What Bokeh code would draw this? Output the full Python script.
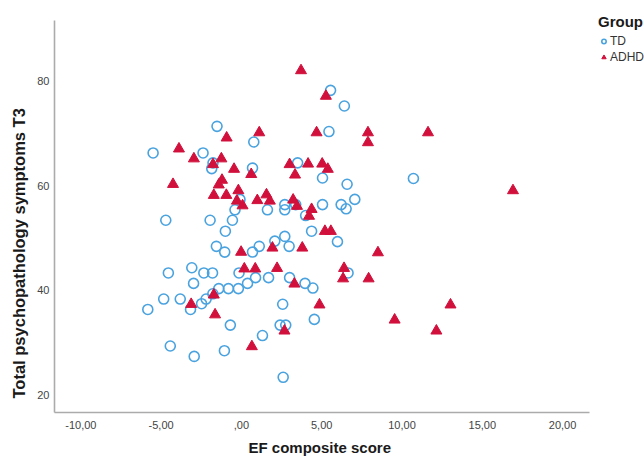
from bokeh.plotting import figure
from bokeh.models import Range1d, FixedTicker, Legend, LegendItem, Title
from bokeh.embed import file_html
from bokeh.resources import INLINE

# TD group (EF composite score, Total psychopathology symptoms T3)
td_x = [-1.52, 0.77, -5.50, -2.39, -1.77, -1.85, 0.69, -0.09, -0.40, -4.71,
        -1.95, -0.56, -1.00, -1.56, -1.04, 0.69, 1.11, -4.55, -3.09, -2.34,
        -1.80, -0.15, 0.88, -2.98, 0.38, -1.41, -0.81, -0.19, -1.78, -2.20,
        -2.48, -4.84, -3.81, -3.17, -5.83, -0.69, 1.31, -4.43, -1.06, -2.94,
        5.55, 6.41, 5.45, 3.50, 5.05, 6.58, 7.06, 2.70, 3.38, 5.05,
        6.21, 6.52, 1.62, 2.70, 4.00, 4.37, 5.98, 2.70, 2.08, 2.97,
        1.69, 3.00, 3.96, 4.45, 6.64, 2.57, 2.41, 2.76, 4.54, 2.60,
        10.71]
td_y = [71.4, 68.4, 66.3, 66.3, 64.4, 63.3, 63.4, 57.4, 55.4, 53.4,
        53.4, 53.4, 51.3, 48.4, 47.3, 47.3, 48.4, 43.3, 44.3, 43.3,
        43.3, 43.3, 42.4, 41.3, 41.3, 40.3, 40.3, 40.3, 39.3, 38.3,
        37.4, 38.3, 38.3, 36.3, 36.3, 33.3, 31.3, 29.3, 28.4, 27.3,
        78.3, 75.3, 70.4, 64.4, 61.5, 60.3, 57.4, 56.4, 56.4, 56.4,
        56.4, 55.6, 55.4, 55.4, 54.3, 51.3, 49.3, 50.3, 49.4, 48.4,
        42.4, 42.4, 41.3, 40.4, 43.3, 37.3, 33.3, 33.3, 34.4, 23.3,
        61.4]

# ADHD group
adhd_x = [-0.92, 1.11, -3.89, -2.96, -1.25, -1.77, -0.46, 0.61, -1.21, -1.41,
          -4.26, -1.72, -0.94, -0.19, -0.28, 0.07, 0.99, -0.02, 0.18, 0.86,
          -1.72, -3.13, -1.64, 0.65, 3.71, 5.26, 4.68, 7.88, 7.88, 3.00,
          4.15, 5.03, 5.38, 3.34, 1.56, 1.77, 3.22, 3.46, 4.37, 4.21,
          5.20, 5.57, 1.93, 3.79, 2.22, 6.39, 6.33, 7.92, 3.30, 4.86,
          2.68, 11.62, 8.50, 13.02, 9.54, 12.14, 16.91]
adhd_y = [69.2, 70.2, 67.1, 65.2, 65.2, 64.1, 63.2, 62.2, 61.1, 60.2,
          60.3, 58.2, 58.2, 59.1, 57.1, 56.2, 57.2, 47.3, 44.1, 44.1,
          39.1, 37.3, 35.3, 29.2, 82.1, 77.2, 70.2, 70.2, 68.3, 64.1,
          64.2, 64.2, 63.2, 62.1, 58.3, 57.1, 57.3, 56.1, 55.5, 54.2,
          51.3, 51.3, 48.1, 48.1, 44.2, 44.2, 42.2, 42.2, 41.2, 37.2,
          32.2, 70.2, 47.2, 37.2, 34.3, 32.2, 59.1]

x_ticks = [-10, -5, 0, 5, 10, 15, 20]
x_tick_labels = ["-10,00", "-5,00", ",00", "5,00", "10,00", "15,00", "20,00"]
y_ticks = [20, 40, 60, 80]
y_tick_labels = ["20", "40", "60", "80"]

FONT = "Liberation Sans"

# frame spans to the right edge so the legend can sit inside it;
# the axis lines are limited with bounds
p = figure(width=644, height=462, output_backend="svg", toolbar_location=None,
           x_range=Range1d(-11.64, 25.1), y_range=Range1d(16.55, 93.03),
           min_border_left=51, min_border_right=0, min_border_top=13,
           min_border_bottom=50)
p.background_fill_color = "white"
p.border_fill_color = "white"
p.outline_line_color = None
p.xgrid.visible = False
p.ygrid.visible = False

r_td = p.scatter(td_x, td_y, marker="circle", size=10, fill_color=None,
                 line_color="#4AA3DF", line_width=1.6)
r_adhd = p.scatter(adhd_x, adhd_y, marker="triangle", size=11,
                   fill_color="#D1103C", line_color="#D1103C", line_width=1)

p.xaxis.bounds = (-11.64, 21.70)
p.yaxis.bounds = (16.55, 91.69)

for ax, ticks, labels in ((p.xaxis[0], x_ticks, x_tick_labels),
                          (p.yaxis[0], y_ticks, y_tick_labels)):
    ax.ticker = FixedTicker(ticks=ticks)
    ax.major_label_overrides = {t: l for t, l in zip(ticks, labels)}
    ax.axis_line_color = "#ABABAB"
    ax.axis_line_width = 1.6
    ax.major_tick_line_color = None
    ax.minor_tick_line_color = None
    ax.major_tick_out = 0
    ax.major_tick_in = 0
    ax.minor_tick_out = 0
    ax.major_label_text_font = FONT
    ax.major_label_text_font_size = "11px"
    ax.major_label_text_color = "#444444"

p.xaxis.major_label_standoff = 8
p.yaxis.major_label_standoff = 5

# axis titles, placed along the axis lines (not the wider frame)
xtitle = Title(text="EF composite score", align="left", offset=194,
               text_font=FONT, text_font_size="15px", text_font_style="bold",
               text_color="#1a1a1a", standoff=10)
p.add_layout(xtitle, "below")

ytitle = Title(text="Total psychopathology symptoms T3", align="left", offset=14,
               text_font=FONT, text_font_size="16.5px", text_font_style="bold",
               text_color="#1a1a1a", standoff=14)
p.add_layout(ytitle, "left")

legend = Legend(items=[LegendItem(label="TD", renderers=[r_td]),
                       LegendItem(label="ADHD", renderers=[r_adhd])],
                title="Group", location="top_right")
legend.title_text_font = FONT
legend.title_text_font_size = "15px"
legend.title_text_font_style = "bold"
legend.title_text_color = "#1a1a1a"
legend.title_standoff = 4
legend.label_text_font = FONT
legend.label_text_font_size = "12px"
legend.label_text_color = "#333333"
legend.label_standoff = 1
legend.glyph_width = 11
legend.glyph_height = 14
legend.label_height = 14
legend.spacing = 2
legend.padding = 0
legend.margin = 0
legend.border_line_color = None
legend.background_fill_alpha = 0
p.add_layout(legend, "center")

open("out.html", "w").write(file_html(p, INLINE))
